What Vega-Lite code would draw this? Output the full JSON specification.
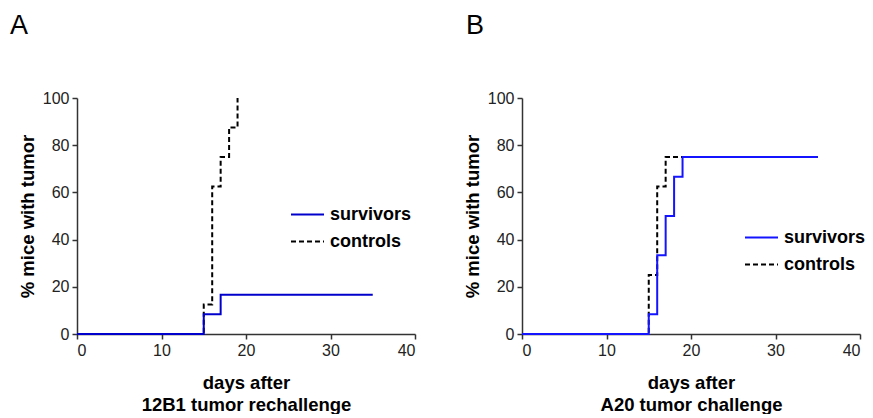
{
  "$schema": "https://vega.github.io/schema/vega-lite/v6.json",
  "background": "white",
  "padding": {"left": 10, "top": 12, "right": 0, "bottom": 0},
  "bounds": "flush",
  "config": {
    "font": "Liberation Sans",
    "view": {"stroke": null},
    "axis": {
      "grid": false,
      "domainColor": "#333333",
      "tickColor": "#333333",
      "domainWidth": 1.5,
      "tickWidth": 1.5,
      "tickSize": 5,
      "labelFont": "Liberation Sans",
      "labelFontSize": 16,
      "labelColor": "#222222",
      "titleFont": "Liberation Sans",
      "titleFontSize": 18.5,
      "titleFontWeight": "bold",
      "titleColor": "#000000"
    },
    "legend": {
      "labelFont": "Liberation Sans",
      "labelFontSize": 18,
      "labelFontWeight": "bold",
      "labelColor": "#000000",
      "padding": 0,
      "offset": 0
    },
    "title": {"font": "Liberation Sans", "fontSize": 27, "fontWeight": "normal", "color": "#000000", "anchor": "start", "frame": "group"}
  },
  "spacing": 107,
  "hconcat": [
    {
      "width": 338,
      "height": 236,
      "title": {"text": "A", "dx": -67, "offset": 50},
      "data": {"values": [
        {"group": "controls", "day": 0, "pct": 0},
        {"group": "controls", "day": 15, "pct": 12.5},
        {"group": "controls", "day": 16, "pct": 62.5},
        {"group": "controls", "day": 17, "pct": 75},
        {"group": "controls", "day": 18, "pct": 87.5},
        {"group": "controls", "day": 19, "pct": 100},
        {"group": "survivors", "day": 0, "pct": 0},
        {"group": "survivors", "day": 15, "pct": 8.33},
        {"group": "survivors", "day": 17, "pct": 16.67},
        {"group": "survivors", "day": 35, "pct": 16.67}
      ]},
      "mark": {"type": "line", "interpolate": "step-after", "strokeWidth": 2},
      "encoding": {
        "x": {"field": "day", "type": "quantitative", "scale": {"domain": [0, 40], "nice": false}, "axis": {"values": [0, 10, 20, 30, 40], "title": ["days after", "12B1 tumor rechallenge"], "titlePadding": 15, "titleLineHeight": 22, "labelPadding": 3}},
        "y": {"field": "pct", "type": "quantitative", "scale": {"domain": [0, 100], "nice": false}, "axis": {"values": [0, 20, 40, 60, 80, 100], "title": "% mice with tumor", "titlePadding": 5, "labelPadding": 3}},
        "color": {"field": "group", "type": "nominal", "scale": {"domain": ["survivors", "controls"], "range": ["#0000cc", "#000000"]}, "legend": {"title": null, "orient": "none", "legendX": 213, "legendY": 99, "symbolType": "stroke", "symbolSize": 1089, "symbolStrokeWidth": 2, "labelOffset": 5, "rowPadding": -6}},
        "strokeDash": {"field": "group", "type": "nominal", "scale": {"domain": ["survivors", "controls"], "range": [[1, 0], [5, 3]]}, "legend": null}
      }
    },
    {
      "width": 338,
      "height": 236,
      "title": {"text": "B", "dx": -56, "offset": 50},
      "data": {"values": [
        {"group": "controls", "day": 0, "pct": 0},
        {"group": "controls", "day": 15, "pct": 25},
        {"group": "controls", "day": 16, "pct": 62.5},
        {"group": "controls", "day": 17, "pct": 75},
        {"group": "controls", "day": 35, "pct": 75},
        {"group": "survivors", "day": 0, "pct": 0},
        {"group": "survivors", "day": 15, "pct": 8.33},
        {"group": "survivors", "day": 16, "pct": 33.33},
        {"group": "survivors", "day": 17, "pct": 50},
        {"group": "survivors", "day": 18, "pct": 66.67},
        {"group": "survivors", "day": 19, "pct": 75},
        {"group": "survivors", "day": 35, "pct": 75}
      ]},
      "mark": {"type": "line", "interpolate": "step-after", "strokeWidth": 2},
      "encoding": {
        "x": {"field": "day", "type": "quantitative", "scale": {"domain": [0, 40], "nice": false}, "axis": {"values": [0, 10, 20, 30, 40], "title": ["days after", "A20 tumor challenge"], "titlePadding": 15, "titleLineHeight": 22, "labelPadding": 3}},
        "y": {"field": "pct", "type": "quantitative", "scale": {"domain": [0, 100], "nice": false}, "axis": {"values": [0, 20, 40, 60, 80, 100], "title": "% mice with tumor", "titlePadding": 5, "labelPadding": 3}},
        "color": {"field": "group", "type": "nominal", "scale": {"domain": ["survivors", "controls"], "range": ["#1414ff", "#000000"]}, "legend": {"title": null, "orient": "none", "legendX": 222, "legendY": 122, "symbolType": "stroke", "symbolSize": 1089, "symbolStrokeWidth": 2, "labelOffset": 5, "rowPadding": -6}},
        "strokeDash": {"field": "group", "type": "nominal", "scale": {"domain": ["survivors", "controls"], "range": [[1, 0], [5, 3]]}, "legend": null}
      }
    }
  ],
  "resolve": {"scale": {"color": "independent", "strokeDash": "independent"}}
}
